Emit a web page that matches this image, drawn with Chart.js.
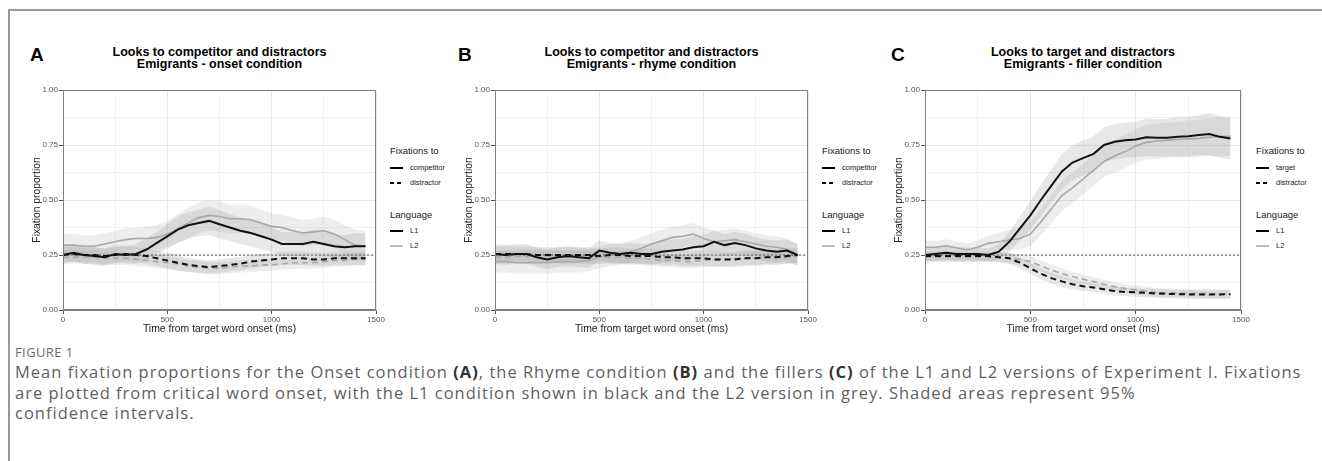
<!DOCTYPE html>
<html><head><meta charset="utf-8">
<script src="https://cdn.jsdelivr.net/npm/chart.js@4.4.1/dist/chart.umd.min.js"></script>
<style>
body{margin:0;width:1322px;height:461px;background:#fff;position:relative;overflow:hidden;font-family:"Liberation Sans",Arial,sans-serif;}
#frame{position:absolute;left:8px;top:9px;width:1330px;height:470px;border-left:2px solid #9a9a9a;border-top:2px solid #9a9a9a;}
.letter{position:absolute;font-weight:bold;font-size:19px;line-height:20px;color:#000;}
.title{position:absolute;width:360px;text-align:center;font-weight:bold;font-size:12.5px;line-height:12px;color:#000;}
canvas{position:absolute;}
.lt{position:absolute;font-size:9.5px;line-height:12px;color:#1a1a1a;white-space:nowrap;}
.li{position:absolute;font-size:7.5px;line-height:10px;color:#1a1a1a;white-space:nowrap;}
.key{position:absolute;}
#figlabel{position:absolute;left:15px;top:344px;font-size:13px;letter-spacing:0.4px;line-height:16px;color:#6a6a6a;font-family:"Open Sans",sans-serif;}
#caption{position:absolute;left:15px;top:362px;width:1305px;font-size:16.5px;letter-spacing:1px;line-height:20.5px;color:#5f5f5f;font-family:"Open Sans",sans-serif;white-space:nowrap;}
#caption b{color:#333;}
</style></head>
<body>
<div id="frame"></div>
<div id="figlabel">FIGURE 1</div>
<div id="caption">Mean fixation proportions for the Onset condition <b>(A)</b>, the Rhyme condition <b>(B)</b> and the fillers <b>(C)</b> of the L1 and L2 versions of Experiment I. Fixations<br>are plotted from critical word onset, with the L1 condition shown in black and the L2 version in grey. Shaded areas represent 95%<br>confidence intervals.</div>
<script>
// ---------- DATA ----------
const times = [0,50,100,150,200,250,300,350,400,450,500,550,600,650,700,750,800,850,900,950,1000,1050,1100,1150,1200,1250,1300,1350,1400,1450];
const chanceLevel = 0.25;
const xMajorTicks = [0,500,1000,1500];
const yMajorTicks = [0,0.25,0.5,0.75,1];

// Panel A: onset condition
const aCompL1 = [.25,.26,.25,.245,.24,.255,.25,.255,.275,.305,.335,.365,.385,.395,.405,.39,.375,.36,.35,.335,.32,.30,.30,.30,.31,.30,.29,.285,.29,.29];
const aCompL2 = [.295,.295,.29,.29,.30,.31,.32,.325,.325,.33,.345,.37,.395,.42,.43,.425,.415,.415,.41,.395,.38,.375,.36,.35,.355,.36,.345,.32,.295,.29];
const aDistL1 = [.25,.255,.25,.25,.245,.25,.255,.25,.245,.235,.225,.215,.205,.20,.195,.20,.205,.21,.22,.225,.23,.235,.235,.235,.23,.23,.235,.235,.235,.235];
const aDistL2 = [.24,.24,.24,.24,.235,.235,.235,.23,.225,.22,.215,.21,.20,.195,.19,.19,.195,.20,.20,.205,.205,.21,.215,.215,.215,.22,.225,.225,.23,.23];
const aCiCompL1 = [.04,.04,.04,.04,.04,.04,.04,.045,.05,.05,.055,.06,.06,.06,.065,.065,.06,.06,.06,.06,.055,.055,.055,.055,.055,.055,.055,.055,.06,.06];
const aCiCompL2 = [.05,.05,.05,.05,.05,.05,.05,.05,.055,.055,.06,.065,.07,.07,.07,.07,.065,.065,.065,.06,.06,.06,.06,.06,.06,.065,.065,.065,.07,.07];
const aCiDistL1 = [.035,.035,.035,.035,.035,.035,.035,.035,.035,.035,.035,.035,.03,.03,.03,.03,.03,.03,.03,.03,.03,.03,.03,.03,.03,.03,.03,.03,.03,.03];
const aCiDistL2 = [.03,.03,.03,.03,.03,.03,.03,.03,.03,.03,.03,.03,.028,.028,.028,.028,.028,.028,.028,.028,.028,.028,.028,.028,.028,.028,.028,.028,.028,.028];

// Panel B: rhyme condition
const bCompL1 = [.255,.25,.255,.255,.24,.23,.24,.245,.24,.235,.27,.26,.255,.26,.255,.255,.265,.27,.275,.285,.29,.31,.295,.305,.295,.28,.27,.265,.27,.25];
const bCompL2 = [.22,.22,.215,.215,.215,.215,.22,.22,.22,.225,.24,.25,.255,.265,.28,.30,.315,.33,.335,.345,.325,.31,.315,.32,.31,.30,.29,.285,.275,.25];
const bDistL1 = [.255,.255,.255,.255,.25,.25,.25,.25,.25,.25,.245,.25,.25,.245,.245,.245,.24,.24,.235,.235,.235,.23,.23,.23,.235,.235,.24,.24,.245,.25];
const bDistL2 = [.24,.24,.245,.245,.245,.245,.24,.24,.24,.24,.24,.24,.24,.235,.235,.23,.225,.225,.22,.22,.225,.23,.23,.235,.235,.235,.24,.24,.24,.245];
const bCiCompL1 = [.045,.045,.045,.045,.045,.045,.045,.045,.045,.045,.045,.045,.045,.045,.045,.05,.05,.05,.05,.05,.05,.05,.05,.05,.05,.05,.05,.05,.05,.05];
const bCiCompL2 = [.05,.05,.05,.05,.05,.05,.05,.05,.05,.05,.05,.05,.05,.05,.05,.05,.05,.05,.05,.05,.05,.05,.05,.05,.05,.05,.05,.05,.05,.05];
const bCiDistL1 = [.035,.035,.035,.035,.035,.035,.035,.035,.035,.035,.035,.035,.035,.035,.035,.035,.035,.035,.035,.035,.035,.035,.035,.035,.035,.035,.035,.035,.035,.035];
const bCiDistL2 = [.03,.03,.03,.03,.03,.03,.03,.03,.03,.03,.03,.03,.03,.03,.03,.03,.03,.03,.03,.03,.03,.03,.03,.03,.03,.03,.03,.03,.03,.03];

// Panel C: filler condition
const cTargL1 = [.25,.255,.26,.255,.255,.255,.25,.265,.31,.37,.43,.50,.565,.63,.67,.69,.71,.75,.765,.772,.775,.785,.783,.783,.787,.79,.795,.80,.787,.78];
const cTargL2 = [.285,.285,.292,.283,.273,.285,.303,.31,.318,.325,.345,.40,.46,.52,.555,.595,.635,.675,.70,.72,.745,.762,.768,.772,.775,.778,.78,.785,.788,.79];
const cDistL1 = [.245,.245,.245,.245,.245,.245,.245,.24,.235,.215,.19,.165,.145,.13,.117,.108,.102,.094,.086,.082,.08,.078,.075,.073,.072,.071,.07,.07,.071,.072];
const cDistL2 = [.24,.24,.24,.24,.24,.24,.24,.24,.235,.23,.22,.20,.182,.165,.152,.14,.129,.117,.106,.097,.091,.085,.08,.078,.077,.076,.076,.074,.073,.072];
const cCiTargL1 = [.03,.03,.03,.03,.03,.03,.03,.035,.045,.055,.065,.07,.075,.08,.08,.08,.08,.08,.08,.08,.08,.085,.085,.085,.09,.09,.09,.095,.095,.095];
const cCiTargL2 = [.03,.03,.03,.03,.03,.03,.035,.04,.045,.05,.055,.06,.065,.07,.07,.07,.07,.07,.075,.075,.075,.08,.08,.08,.08,.085,.085,.085,.09,.09];
const cCiDistL1 = [.022,.022,.022,.022,.022,.022,.022,.022,.025,.025,.025,.025,.025,.025,.022,.022,.02,.02,.02,.02,.02,.02,.02,.02,.02,.02,.02,.02,.02,.02];
const cCiDistL2 = [.022,.022,.022,.022,.022,.022,.022,.022,.025,.025,.025,.025,.025,.025,.022,.022,.02,.02,.02,.02,.02,.02,.02,.02,.02,.02,.02,.02,.02,.02];

// ---------- LAYOUT / STYLE ----------
const panels = [
  {letter:'A', title:['Looks to competitor and distractors','Emigrants - onset condition'], key1:'competitor',
   plotLeft:63, plotRight:376, letterX:30, legendX:390,
   lines:[aCompL1,aCompL2,aDistL1,aDistL2], cis:[aCiCompL1,aCiCompL2,aCiDistL1,aCiDistL2]},
  {letter:'B', title:['Looks to competitor and distractors','Emigrants - rhyme condition'], key1:'competitor',
   plotLeft:495, plotRight:808, letterX:458, legendX:822,
   lines:[bCompL1,bCompL2,bDistL1,bDistL2], cis:[bCiCompL1,bCiCompL2,bCiDistL1,bCiDistL2]},
  {letter:'C', title:['Looks to target and distractors','Emigrants - filler condition'], key1:'target',
   plotLeft:925, plotRight:1241, letterX:891, legendX:1256,
   lines:[cTargL1,cTargL2,cDistL1,cDistL2], cis:[cCiTargL1,cCiTargL2,cCiDistL1,cCiDistL2]}
];
const PLOT_TOP = 90, PLOT_BOTTOM = 310, YW = 45, XH = 31, PADR = 14;
const L1_COLOR = '#111111', L2_COLOR = '#a8a8a8';
const BAND_L1 = 'rgba(150,150,150,0.22)', BAND_L2 = 'rgba(185,185,185,0.25)';

const borderPlugin = {
  id:'panelBorder',
  afterDraw(chart){
    const a = chart.chartArea, c = chart.ctx;
    c.save(); c.strokeStyle = '#808080'; c.lineWidth = 1;
    c.strokeRect(Math.round(a.left)+0.5, Math.round(a.top)+0.5, Math.round(a.right-a.left)-1, Math.round(a.bottom-a.top)-1);
    c.restore();
  }
};

function pts(arr){ return times.map((t,i)=>({x:t,y:arr[i]})); }
function ptsOff(arr,ci,s){ return times.map((t,i)=>({x:t,y:arr[i]+s*ci[i]})); }

function addDiv(cls, text, left, top, extra){
  const d = document.createElement('div'); d.className = cls; d.textContent = text;
  d.style.left = left+'px'; d.style.top = top+'px';
  if (extra) Object.assign(d.style, extra);
  document.body.appendChild(d); return d;
}
function addKey(x, yc, color, width, dash){
  const s = document.createElementNS('http://www.w3.org/2000/svg','svg');
  s.setAttribute('width','15'); s.setAttribute('height','6'); s.setAttribute('class','key');
  s.style.left = x+'px'; s.style.top = (yc-3)+'px';
  const l = document.createElementNS('http://www.w3.org/2000/svg','line');
  l.setAttribute('x1','1'); l.setAttribute('x2','14'); l.setAttribute('y1','3'); l.setAttribute('y2','3');
  l.setAttribute('stroke',color); l.setAttribute('stroke-width',width);
  if (dash) l.setAttribute('stroke-dasharray',dash);
  s.appendChild(l); document.body.appendChild(s);
}

panels.forEach(p=>{
  const cx = (p.plotLeft+p.plotRight)/2;
  addDiv('letter', p.letter, p.letterX, 45);
  const t = addDiv('title', '', cx-180, 46);
  t.innerHTML = p.title[0]+'<br>'+p.title[1];

  // legend
  const lx = p.legendX;
  addDiv('lt','Fixations to', lx, 145);
  addKey(lx-1, 168, '#000', 2, null);  addDiv('li', p.key1, lx+20, 163);
  addKey(lx-1, 183, '#000', 2, '4 3'); addDiv('li', 'distractor', lx+20, 178);
  addDiv('lt','Language', lx, 209);
  addKey(lx-1, 231, '#000', 2, null);  addDiv('li', 'L1', lx+20, 226);
  addKey(lx-1, 246, L2_COLOR, 1.5, null); addDiv('li', 'L2', lx+20, 241);

  const cv = document.createElement('canvas');
  const W = (p.plotRight-p.plotLeft)+YW+PADR, H = 10+(PLOT_BOTTOM-PLOT_TOP)+XH;
  cv.width = W; cv.height = H; cv.style.width = W+'px'; cv.style.height = H+'px';
  cv.style.left = (p.plotLeft-YW)+'px'; cv.style.top = (PLOT_TOP-10)+'px';
  document.body.appendChild(cv);

  const [m1,m2,d1,d2] = p.lines, [c1,c2,c3,c4] = p.cis;
  const band = (arr,ci,col)=>[
    {data:ptsOff(arr,ci,1), borderWidth:0, pointRadius:0, fill:'+1', backgroundColor:col, order:10},
    {data:ptsOff(arr,ci,-1), borderWidth:0, pointRadius:0, fill:false, order:10}
  ];
  const datasets = [
    {data:pts(m1), borderColor:L1_COLOR, borderWidth:2, pointRadius:0, fill:false, order:0},
    {data:pts(d1), borderColor:L1_COLOR, borderWidth:2, borderDash:[6,4], pointRadius:0, fill:false, order:0},
    {data:pts(m2), borderColor:L2_COLOR, borderWidth:1.6, pointRadius:0, fill:false, order:1},
    {data:pts(d2), borderColor:L2_COLOR, borderWidth:1.6, borderDash:[6,4], pointRadius:0, fill:false, order:1},
    {data:[{x:0,y:chanceLevel},{x:1500,y:chanceLevel}], borderColor:'#555', borderWidth:1, borderDash:[2,2], pointRadius:0, fill:false, order:2},
    ...band(m1,c1,BAND_L1), ...band(m2,c2,BAND_L2), ...band(d1,c3,BAND_L1), ...band(d2,c4,BAND_L2)
  ];

  new Chart(cv, {
    type:'line',
    data:{datasets},
    plugins:[borderPlugin],
    options:{
      responsive:false, animation:false, devicePixelRatio:1,
      layout:{padding:{top:10,right:PADR,left:0,bottom:0}},
      plugins:{legend:{display:false}, tooltip:{enabled:false}, title:{display:false}},
      elements:{line:{tension:0}},
      scales:{
        x:{type:'linear', min:0, max:1500,
           afterFit(s){ s.height = XH; },
           ticks:{stepSize:250, autoSkip:false, maxRotation:0, padding:1,
                  font:{size:8, family:'Liberation Sans'}, color:'#555',
                  callback:v=> xMajorTicks.includes(v) ? String(v) : ''},
           grid:{color:c=> (c.tick && c.tick.value%500===0) ? '#e6e6e6' : '#f1f1f1',
                 lineWidth:1, tickLength:4,
                 tickColor:c=> (c.tick && c.tick.value%500===0) ? '#555' : 'rgba(0,0,0,0)'},
           border:{display:true, color:'#808080', width:1},
           title:{display:true, text:'Time from target word onset (ms)', font:{size:10.4, family:'Liberation Sans'}, color:'#222', padding:{top:0,bottom:5.5}}
        },
        y:{type:'linear', min:0, max:1,
           afterFit(s){ s.width = YW; },
           ticks:{stepSize:0.125, autoSkip:false, padding:1,
                  font:{size:8, family:'Liberation Sans'}, color:'#555',
                  callback:v=> yMajorTicks.some(m=>Math.abs(m-v)<1e-6) ? v.toFixed(2) : ''},
           grid:{color:c=> (c.tick && Math.abs(c.tick.value*4-Math.round(c.tick.value*4))<1e-6) ? '#e6e6e6' : '#f1f1f1',
                 lineWidth:1, tickLength:4,
                 tickColor:c=> (c.tick && Math.abs(c.tick.value*4-Math.round(c.tick.value*4))<1e-6) ? '#555' : 'rgba(0,0,0,0)'},
           border:{display:true, color:'#808080', width:1},
           title:{display:true, text:'Fixation proportion', font:{size:10.3, family:'Liberation Sans'}, color:'#222', padding:{top:12.5,bottom:0}}
        }
      }
    }
  });
});
</script>
</body></html>
